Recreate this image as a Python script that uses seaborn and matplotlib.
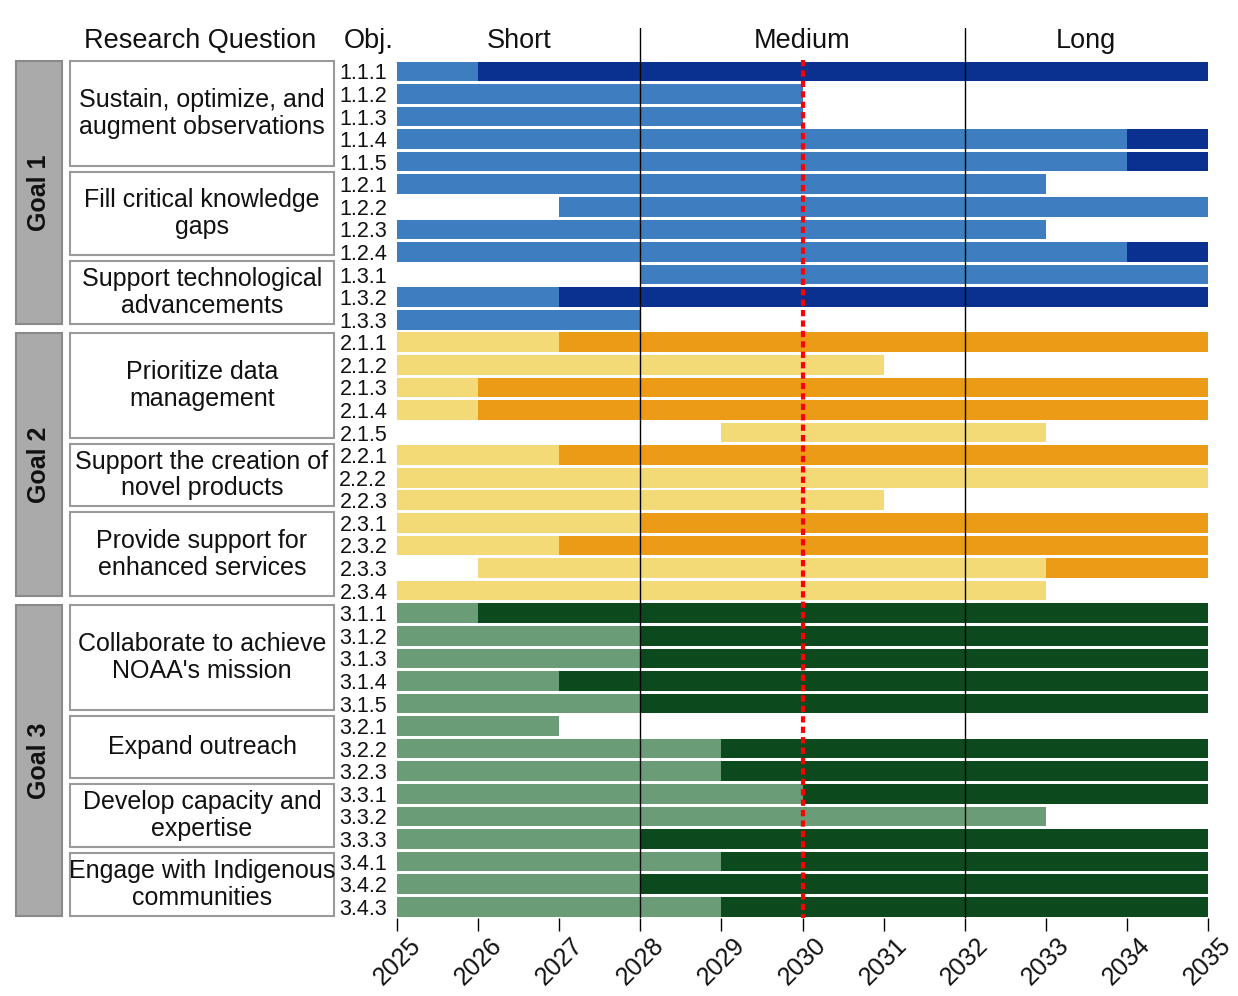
import pandas as pd
import seaborn as sns
import matplotlib.pyplot as plt
from matplotlib.patches import Rectangle

# --- data ---
goals = ["Goal 1", "Goal 2", "Goal 3"]
question_ids = ["1.1", "1.2", "1.3", "2.1", "2.2", "2.3", "3.1", "3.2", "3.3", "3.4"]
questions = ["Sustain, optimize, and\naugment observations",
             "Fill critical knowledge\ngaps",
             "Support technological\nadvancements",
             "Prioritize data\nmanagement",
             "Support the creation of\nnovel products",
             "Provide support for\nenhanced services",
             "Collaborate to achieve\nNOAA's mission",
             "Expand outreach",
             "Develop capacity and\nexpertise",
             "Engage with Indigenous\ncommunities"]

objectives = ["1.1.1", "1.1.2", "1.1.3", "1.1.4", "1.1.5", "1.2.1", "1.2.2", "1.2.3", "1.2.4",
              "1.3.1", "1.3.2", "1.3.3",
              "2.1.1", "2.1.2", "2.1.3", "2.1.4", "2.1.5", "2.2.1", "2.2.2", "2.2.3",
              "2.3.1", "2.3.2", "2.3.3", "2.3.4",
              "3.1.1", "3.1.2", "3.1.3", "3.1.4", "3.1.5", "3.2.1", "3.2.2", "3.2.3",
              "3.3.1", "3.3.2", "3.3.3", "3.4.1", "3.4.2", "3.4.3"]
# year the objective starts
start = [2025, 2025, 2025, 2025, 2025, 2025, 2027, 2025, 2025, 2028, 2025, 2025,
         2025, 2025, 2025, 2025, 2029, 2025, 2025, 2025, 2025, 2025, 2026, 2025,
         2025, 2025, 2025, 2025, 2025, 2025, 2025, 2025, 2025, 2025, 2025, 2025, 2025, 2025]
# year the light (first) phase ends and dark phase starts
switch = [2026, 2030, 2030, 2034, 2034, 2033, 2035, 2033, 2034, 2035, 2027, 2028,
          2027, 2031, 2026, 2026, 2033, 2027, 2035, 2031, 2028, 2027, 2033, 2033,
          2026, 2028, 2028, 2027, 2028, 2027, 2029, 2029, 2030, 2033, 2028, 2029, 2028, 2029]
# year the objective ends
end = [2035, 2030, 2030, 2035, 2035, 2033, 2035, 2033, 2035, 2035, 2035, 2028,
       2035, 2031, 2035, 2035, 2033, 2035, 2035, 2031, 2035, 2035, 2035, 2033,
       2035, 2035, 2035, 2035, 2035, 2027, 2035, 2035, 2035, 2033, 2035, 2035, 2035, 2035]

phase_names = ["Short", "Medium", "Long"]
phase_bounds = [2025, 2028, 2032, 2035]
years = list(range(2025, 2036))
midpoint_year = 2030

light_colors = {"Goal 1": "#3e7dbf", "Goal 2": "#f4d977", "Goal 3": "#6a9d77"}
dark_colors = {"Goal 1": "#0a3190", "Goal 2": "#ec9b17", "Goal 3": "#0c4a1e"}

df = pd.DataFrame({"obj": objectives,
                   "goal": [goals[int(o[0]) - 1] for o in objectives],
                   "start": start, "switch": switch, "end": end})

sns.set_theme(style="white")
plt.rcParams["font.family"] = ["Liberation Sans", "DejaVu Sans"]

W, H = 1238, 996
fig = plt.figure(figsize=(W / 100, H / 100), dpi=100)

# overlay in pixel coordinates for the table on the left
lax = fig.add_axes([0, 0, 1, 1])
lax.set_xlim(0, W)
lax.set_ylim(H, 0)
lax.axis("off")

# main chart
ax = fig.add_axes([397 / W, 1 - 918 / H, (1208 - 397) / W, (918 - 28) / H])
bar_kw = dict(y="obj", orient="y", width=0.87, saturation=1, linewidth=0, ax=ax)
sns.barplot(data=df, x="end", hue="goal", palette=dark_colors, dodge=False, legend=False, **bar_kw)
sns.barplot(data=df, x="switch", hue="goal", palette=light_colors, dodge=False, legend=False, **bar_kw)
sns.barplot(data=df, x="start", color="white", **bar_kw)

n = len(objectives)
ax.set_xlim(phase_bounds[0], phase_bounds[-1])
ax.set_ylim(n - 0.5, -1.92)
ax.set_xlabel("")
ax.set_ylabel("")
sns.despine(ax=ax, left=True, bottom=True)

for b in phase_bounds[1:-1]:
    ax.axvline(b, color="black", lw=1, zorder=4)
ax.vlines(midpoint_year, -0.5, n - 0.5, colors="red", linestyles=(0, (1.5, 1)), lw=3, zorder=5)

for name, a, b in zip(phase_names, phase_bounds[:-1], phase_bounds[1:]):
    ax.text((a + b) / 2, 0.985, name, transform=ax.get_xaxis_transform(),
            ha="center", va="center", fontsize=19.5, color="#111111")

ax.set_xticks(years)
ax.set_xticklabels([str(y) for y in years], rotation=45, fontsize=18, color="#111111")
ax.tick_params(axis="x", bottom=True, length=9, width=1, color="black", pad=2)
ax.tick_params(axis="y", left=False, labelsize=15.5, pad=1)
for lbl in ax.get_yticklabels():
    lbl.set_color("#111111")

# --- left table: goals and research questions ---
lax.text(200, 41, "Research Question", ha="center", va="center", fontsize=19.5, color="#111111")
lax.text(369, 41, "Obj.", ha="center", va="center", fontsize=19.5, color="#111111")

top, bottom = 61, 916
rq_gap, goal_gap = 6, 9
q_goal = [int(q[0]) - 1 for q in question_ids]
q_rows = [sum(o.startswith(q + ".") for o in objectives) for q in question_ids]
n_rq_gaps = len(question_ids) - len(goals)
unit = (bottom - top - n_rq_gaps * rq_gap - (len(goals) - 1) * goal_gap) / n

y = top
for gi, g in enumerate(goals):
    g_top = y
    for qi in [i for i in range(len(question_ids)) if q_goal[i] == gi]:
        h = q_rows[qi] * unit
        lax.add_patch(Rectangle((70, y), 264, h, facecolor="white", edgecolor="#9a9a9a", lw=1.5))
        lax.text(202, y + h / 2, questions[qi], ha="center", va="center", fontsize=18,
                 linespacing=1.15, color="#111111")
        y += h + rq_gap
    y -= rq_gap
    lax.add_patch(Rectangle((16, g_top), 46, y - g_top, facecolor="#aaaaaa", edgecolor="#8a8a8a", lw=1.5))
    lax.text(39, (g_top + y) / 2, g, rotation=90, ha="center", va="center",
             fontsize=18, fontweight="bold", color="#111111")
    y += goal_gap

fig.savefig("out.png", dpi=100)
